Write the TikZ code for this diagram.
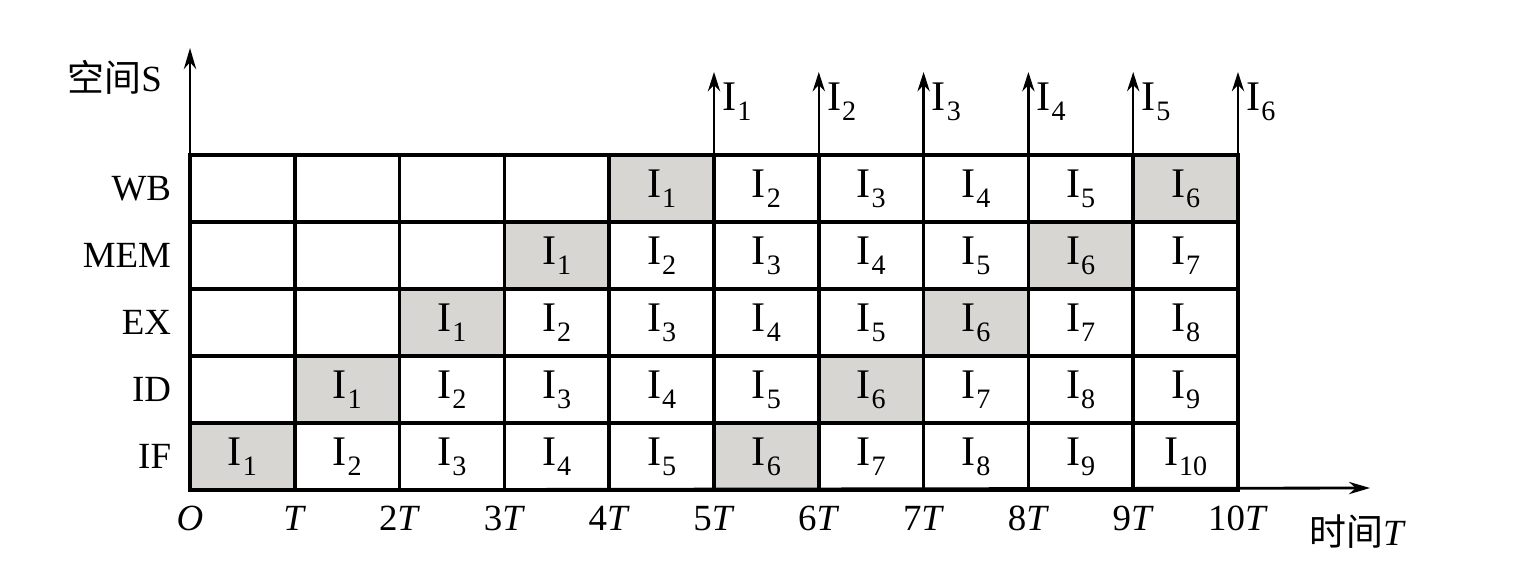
\documentclass[tikz,border=0pt]{standalone}
\usepackage{fontspec}
\setmainfont{Liberation Serif}
\newfontfamily\cjkfont{Noto Sans CJK SC}
\usepackage{xcolor}
\usetikzlibrary{arrows.meta, positioning}

\definecolor{busygray}{RGB}{216,214,210}
\newcommand{\Isub}[1]{{\fontsize{24}{26}\selectfont I}\kern0.5pt\raisebox{-5.5pt}{\fontsize{16}{16}\selectfont #1}}

\tikzset{
  cell/.style={draw, line width=2pt, minimum width=2.096cm, minimum height=1.34cm, inner sep=0pt},
  busy/.style={fill=busygray},
  free/.style={fill=white},
  axis/.style={line width=1.6pt, -{Stealth[length=12pt,width=7pt]}},
  done/.style={line width=1.3pt, -{Stealth[length=11pt,width=7pt]}},
  tick/.style={inner sep=0pt}
}

\begin{document}
\begin{tikzpicture}[x=0.02cm, y=-0.02cm, font=\fontsize{21}{25}\selectfont]
  \useasboundingbox (0,0) rectangle (1519,569);
  % stage/time cells
  \foreach \c in {0,...,9}
    \foreach \r in {0,...,4} {
      \pgfmathtruncatemacro{\k}{\c-\r+1}
      \ifnum\k>0 \def\txt{\Isub{\k}}\else\def\txt{}\fi
      \ifnum\k=1 \def\sty{busy}\else\ifnum\k=6 \def\sty{busy}\else\def\sty{free}\fi\fi
      \node [cell,\sty] (c\c-\r) at ({190+104.8*(\c+0.5)}, {490-67*(\r+0.5)}) {\txt};
    }
  % stage names
  \node [left=0.22cm of c0-4] {WB};
  \node [left=0.22cm of c0-3] {MEM};
  \node [left=0.22cm of c0-2] {EX};
  \node [left=0.22cm of c0-1] {ID};
  \node [left=0.22cm of c0-0] {IF};
  % axes
  \coordinate (origin) at (190,490);
  \coordinate (ytip) at (190,48);
  \coordinate (xtip) at (1370,488);
  \draw [axis] (origin) -- (ytip);
  \draw [axis] (origin) -- (xtip);
  \node [anchor=east] (space) at (168,77) {{\cjkfont 空间}S};
  \node [anchor=west] (time) at (1303,532) {{\cjkfont 时间}\textit{T}};
  % time ticks
  \foreach \c in {0,...,10} {
    \coordinate (t\c) at ({190+104.8*\c},490);
    \ifnum\c=0 \def\lab{\textit{O}}\else\ifnum\c=1 \def\lab{\textit{T}}\else\def\lab{\c\textit{T}}\fi\fi
    \node [tick, below=0.32cm of t\c] (l\c) {\lab};
  }
  % finished instructions
  \foreach \c [evaluate=\c as \k using int(\c-4)] in {5,...,10} {
    \coordinate (b\c) at ({190+104.8*\c},155);
    \coordinate (a\c) at ({190+104.8*\c},72);
    \draw [done] (b\c) -- (a\c);
    \node [anchor=west, inner sep=0pt] (out\c) at ({198+104.8*\c},102) {\Isub{\k}};
  }
\end{tikzpicture}
\end{document}
